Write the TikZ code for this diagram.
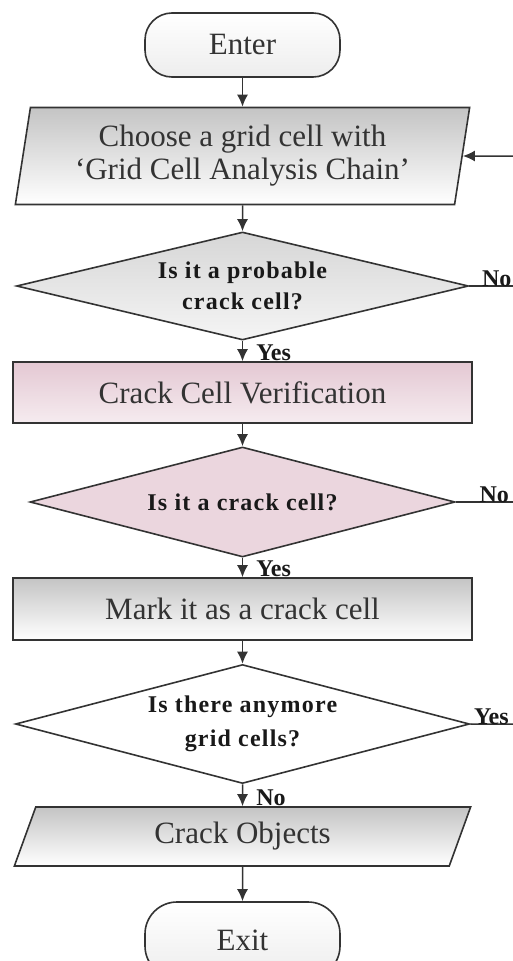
\documentclass[tikz,border=0pt]{standalone}
\usepackage{fontspec}
\setmainfont{Liberation Serif}
\usetikzlibrary{shapes.geometric,arrows.meta}

\definecolor{inkgray}{HTML}{333333}
\definecolor{boxgray}{HTML}{C4C4C4}
\definecolor{boxpink}{HTML}{E4C8D3}

\tikzset{
    base/.style={draw=inkgray, line width=1.6pt, text=inkgray, inner sep=0pt,
        align=center, font=\fontsize{31}{33}\selectfont},
    term/.style={base, rectangle, rounded corners=27pt,
        minimum width=195pt, minimum height=64pt,
        top color=white, bottom color=gray!14},
    io/.style={base, trapezium, trapezium stretches=true},
    proc/.style={base, rectangle, minimum width=459pt, minimum height=61pt},
    ask/.style={base, diamond, aspect=4.2, text=black!90,
        font=\fontsize{24}{31}\selectfont\bfseries\addfontfeature{LetterSpace=5}},
    lbl/.style={inner sep=0pt, text=black!90,
        font=\fontsize{24}{26}\selectfont\bfseries},
    arr/.style={draw=inkgray, line width=1.5pt, -{Latex[length=12pt,width=11pt]}},
    wire/.style={draw=inkgray, line width=1.5pt}
}

\begin{document}
\begin{tikzpicture}[x=1pt,y=-1pt]
    \clip (0,0) rectangle (513,961);
    \fill[white] (0,0) rectangle (513,961);

    % main column
    \node[term] (enter) at (242.5,45) {Enter};
    \node[io, trapezium left angle=79, trapezium right angle=101,
        minimum width=456pt, minimum height=97pt,
        top color=boxgray, bottom color=white]
        (choose) at (242.5,156) {Choose a grid cell with\\`Grid Cell Analysis Chain'};
    \node[ask, minimum width=452pt, minimum height=108pt,
        top color=gray!32, bottom color=gray!8]
        (probable) at (242.5,286) {Is it a probable\\crack cell?};
    \node[proc, top color=boxpink, bottom color=boxpink!35]
        (verify) at (242.5,392.5) {Crack Cell Verification};
    \node[ask, minimum width=425pt, minimum height=110pt, fill=boxpink!75]
        (crack) at (242.5,502) {Is it a crack cell?};
    \node[proc, minimum height=62pt, top color=boxgray, bottom color=white]
        (mark) at (242.5,609) {Mark it as a crack cell};
    \node[ask, minimum width=454pt, minimum height=119pt, fill=white,
        font=\fontsize{24}{34}\selectfont\bfseries\addfontfeature{LetterSpace=5}]
        (more) at (242.5,724) {Is there anymore\\grid cells?};
    \node[io, trapezium left angle=72, trapezium right angle=108,
        minimum width=457pt, minimum height=59pt,
        top color=boxgray, bottom color=white]
        (objects) at (242.5,836.5) {Crack Objects};
    \node[term, minimum height=76pt, rounded corners=32pt] (exit) at (242.5,940) {Exit};

    % return rail, off the right edge
    \coordinate (rail) at (530,156);

    \draw[arr] (enter) -- (choose);
    \draw[arr] (choose) -- (probable);
    \draw[arr] (probable) -- node[lbl, pos=1, anchor=south west, xshift=13pt] {Yes} (verify);
    \draw[arr] (verify) -- (crack);
    \draw[arr] (crack) -- node[lbl, pos=1, anchor=south west, xshift=13pt] {Yes} (mark);
    \draw[arr] (mark) -- (more);
    \draw[arr] (more) -- node[lbl, pos=1, anchor=south west, xshift=13pt] {No} (objects);
    \draw[arr] (objects) -- (exit);

    \draw[wire] (probable.east) -- node[lbl, pos=0, anchor=south west, xshift=12pt, yshift=-1pt] {No} (probable.east -| rail);
    \draw[wire] (crack.east) -- node[lbl, pos=0, anchor=south west, xshift=23pt, yshift=-1pt] {No} (crack.east -| rail);
    \draw[arr] (more.east) -- node[lbl, pos=0, anchor=south west, xshift=3pt, yshift=-1pt] {Yes} (more.east -| rail)
        -- (rail) -- (choose.east);
\end{tikzpicture}
\end{document}
